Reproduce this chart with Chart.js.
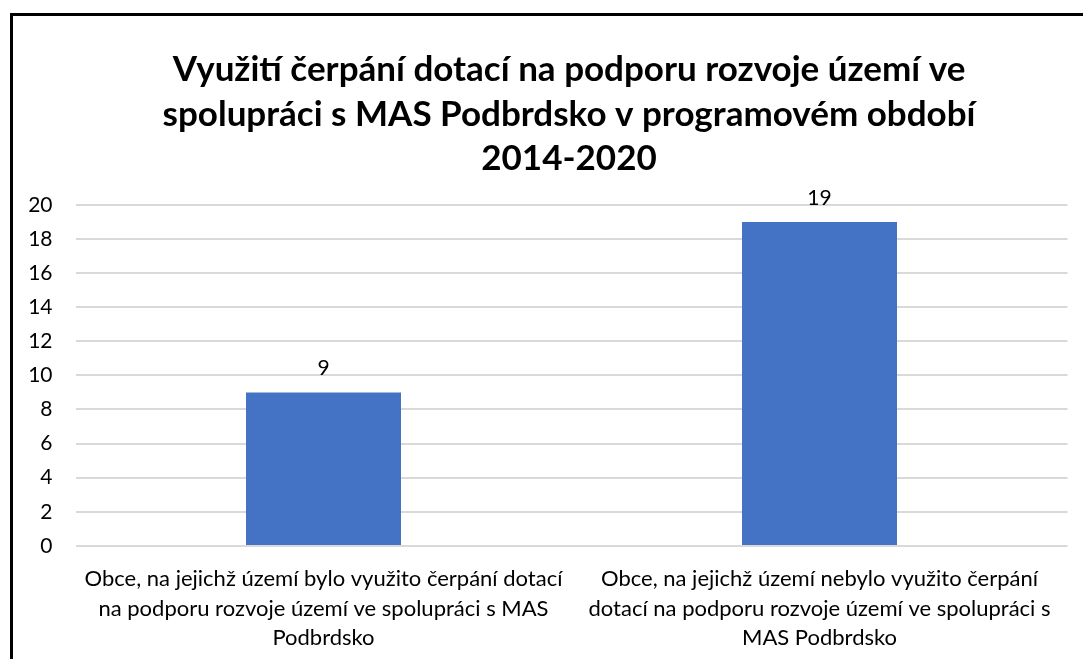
<!DOCTYPE html>
<html>
<head>
<meta charset="utf-8">
<script src="https://cdn.jsdelivr.net/npm/chart.js@4.4.1/dist/chart.umd.min.js"></script>
<style>
  html, body { margin: 0; padding: 0; background: #fff; overflow: hidden; width: 1083px; height: 659px; }
  #frame { position: absolute; left: 10px; top: 13px; border-top: 3px solid #000; border-left: 3px solid #000; width: 1200px; height: 700px; overflow: hidden; background: #fff; }
  canvas { position: absolute; left: 0; top: 0; }
</style>
</head>
<body>
<div id="frame"><canvas id="c" width="1112" height="659"></canvas></div>
<script>
const titleLines = [
  "Využití čerpání dotací na podporu rozvoje území ve",
  "spolupráci s MAS Podbrdsko v programovém období",
  "2014-2020"
];
const categories = [
  ["Obce, na jejichž území bylo využito čerpání dotací", "na podporu rozvoje území ve spolupráci s MAS", "Podbrdsko"],
  ["Obce, na jejichž území nebylo využito čerpání", "dotací na podporu rozvoje území ve spolupráci s", "MAS Podbrdsko"]
];
const values = [9, 19];
const yMin = 0, yMax = 20, yStep = 2;

const FONT = "Lato, 'Open Sans', sans-serif";

const valueLabels = {
  id: 'valueLabels',
  afterDatasetsDraw(chart) {
    const ctx = chart.ctx;
    const meta = chart.getDatasetMeta(0);
    ctx.save();
    ctx.font = "21px " + FONT;
    ctx.fillStyle = "#000";
    ctx.textAlign = "center";
    ctx.textBaseline = "alphabetic";
    meta.data.forEach((bar, i) => {
      ctx.fillText(String(chart.data.datasets[0].data[i]), bar.x, bar.y - 17);
    });
    ctx.restore();
  }
};

new Chart(document.getElementById('c'), {
  type: 'bar',
  data: {
    labels: categories,
    datasets: [{
      data: values,
      backgroundColor: '#4472C4',
      borderWidth: 0,
      categoryPercentage: 0.3125,
      barPercentage: 1.0
    }]
  },
  options: {
    responsive: false,
    animation: false,
    devicePixelRatio: 1,
    layout: { padding: { left: 12.5, right: 12.5, top: 0, bottom: 4 } },
    plugins: {
      legend: { display: false },
      tooltip: { enabled: false },
      title: {
        display: true,
        text: titleLines,
        color: '#000',
        font: { family: FONT, size: 35, weight: 'bold', lineHeight: 1.265 },
        padding: { top: 32, bottom: 24 }
      }
    },
    scales: {
      x: {
        grid: { display: false, drawTicks: false },
        border: { display: false },
        ticks: {
          color: '#000',
          font: { family: FONT, size: 22, lineHeight: 1.32 },
          padding: 19,
          maxRotation: 0,
          autoSkip: false
        }
      },
      y: {
        min: yMin,
        max: yMax,
        afterFit(scale) { scale.width = 50; },
        grid: { color: '#d9d9d9', lineWidth: 2, drawTicks: false },
        border: { display: false },
        ticks: {
          stepSize: yStep,
          color: '#000',
          font: { family: FONT, size: 21 },
          padding: 23
        }
      },
      yRight: {
        position: 'right',
        min: yMin,
        max: yMax,
        afterFit(scale) { scale.width = 45; },
        grid: { display: false, drawTicks: false },
        border: { display: false },
        ticks: { display: false }
      }
    }
  },
  plugins: [valueLabels]
});
</script>
</body>
</html>
